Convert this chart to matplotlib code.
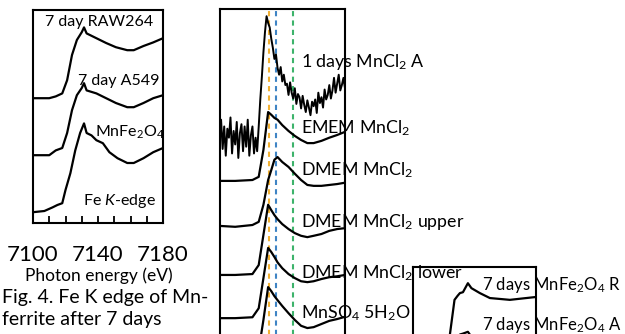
import matplotlib
matplotlib.use('Agg')
import matplotlib.pyplot as plt

W, H = 625, 334

plt.rcParams['font.family'] = ['Lato', 'DejaVu Sans']
plt.rcParams['mathtext.fontset'] = 'custom'
plt.rcParams['mathtext.rm'] = 'Lato'
plt.rcParams['mathtext.it'] = 'Lato:italic'

# Fe K-edge spectra (left panel), normalized absorbance
fe_energy = [7100, 7107, 7112, 7115, 7118, 7120, 7123, 7126, 7129, 7131.4, 7133,
             7136, 7139, 7143, 7147, 7152, 7158, 7162, 7168, 7174, 7180]
fe_mnfe2o4 = [0, 0.02, 0.08, 0.12, 0.15, 0.37, 0.65, 1.03, 1.32, 1.48, 1.32,
              1.28, 1.2, 1.15, 1.0, 0.9, 0.82, 0.82, 0.9, 1.0, 1.07]
fe_cells_energy = [7100, 7110, 7114, 7118, 7121, 7124, 7127, 7130, 7131.4, 7133,
                   7139, 7145, 7151, 7158, 7162, 7168, 7174, 7180]
fe_a549 = [0, 0, 0.08, 0.12, 0.37, 0.75, 1.0, 1.12, 1.2, 1.08, 1.03, 0.95,
           0.87, 0.8, 0.8, 0.87, 0.95, 1.0]
fe_raw264 = [0, 0, 0.03, 0.08, 0.3, 0.72, 0.97, 1.1, 1.18, 1.08, 1.0, 0.92,
             0.85, 0.8, 0.8, 0.87, 0.93, 1.0]
fe_offsets = [0.18, 1.13, 2.08]
fe_labels = ['Fe $K$-edge', 'MnFe$_2$O$_4$', '7 day A549', '7 day RAW264']

# Mn K-edge spectra (middle panel)
mn_energy = [6520, 6530, 6541, 6545, 6548, 6551, 6553, 6555, 6557, 6560, 6564,
             6568, 6572, 6576, 6580, 6585, 6590, 6595, 6600]
mn_emem = [0, 0, 0.02, 0.09, 0.69, 1.53, 1.47, 1.4, 1.36, 1.24, 1.11, 1.0,
           0.91, 0.84, 0.84, 0.89, 0.96, 1.02, 1.09]
mn_dmem = [0, -0.02, 0.02, 0.09, 0.47, 1.02, 1.24, 1.47, 1.53, 1.42, 1.31,
           1.16, 1.02, 0.91, 0.89, 0.89, 0.91, 0.93, 0.96]
mn_dmem_upper = [0, 0, 0.02, 0.22, 0.89, 1.56, 1.44, 1.33, 1.24, 1.13, 1.02,
                 0.93, 0.87, 0.84, 0.87, 0.91, 0.98, 1.02, 1.04]
mn_dmem_lower = [0, 0, 0.02, 0.22, 0.89, 1.56, 1.47, 1.36, 1.24, 1.11, 0.98,
                 0.89, 0.82, 0.8, 0.82, 0.87, 0.91, 0.93, 0.96]
mn_mnso4 = [0, 0, 0.02, 0.22, 0.89, 1.62, 1.53, 1.42, 1.33, 1.2, 1.04, 0.89,
            0.76, 0.71, 0.73, 0.8, 0.87, 0.91, 0.96]
# noisy 1 day sample, read at 1 eV steps
mn_a_energy = [6520, 6521, 6522, 6523, 6524, 6525, 6526, 6527, 6528, 6529,
               6530, 6531, 6532, 6533, 6534, 6535, 6536, 6537, 6538, 6539,
               6540, 6541, 6542, 6543, 6544, 6545, 6546, 6547, 6548, 6549,
               6550, 6551, 6552, 6553, 6554, 6555, 6556, 6557, 6558, 6559,
               6560, 6561, 6562, 6563, 6564, 6565, 6566, 6567, 6568, 6569,
               6570, 6571, 6572, 6573, 6574, 6575, 6576, 6577, 6578, 6579,
               6580, 6581, 6582, 6583, 6584, 6585, 6586, 6587, 6588, 6589,
               6590, 6591, 6592, 6593, 6594, 6595, 6596, 6597, 6598, 6599, 6600]
mn_a = [0.1, 0.45, -0.2, 0.3, -0.35, 0.25, 0.05, 0.5, -0.3, 0.2,
        -0.1, 0.4, -0.4, 0.15, 0.35, -0.25, 0.3, -0.15, 0.45, -0.35,
        0.1, 0.3, -0.3, 0.05, -0.25, 0.3, 0.9, 1.4, 1.95, 2.4,
        2.75, 2.6, 2.5, 2.25, 2.05, 1.8, 1.9, 1.6, 1.45, 1.62,
        1.3, 1.45, 1.22, 1.25, 1.0, 1.28, 1.05, 0.92, 1.15, 0.8,
        1.02, 0.95, 0.7, 0.98, 0.78, 0.62, 0.88, 0.72, 0.55, 0.85,
        0.75, 0.9, 0.6, 1.05, 0.82, 0.95, 0.72, 1.12, 0.9, 1.0,
        1.22, 0.92, 1.1, 1.38, 1.05, 1.25, 1.45, 1.1, 1.22, 1.38, 1.15]
mn_offsets = [5.09, 4.18, 3.18, 2.09, 1.13, 0.2]
mn_labels = ['1 days MnCl$_2$ A', 'EMEM MnCl$_2$', 'DMEM MnCl$_2$',
             'DMEM MnCl$_2$ upper', 'DMEM MnCl$_2$ lower', 'MnSO$_4$ 5H$_2$O']
mn_label_y = [62, 128, 170, 222, 273, 313]
ref_lines = [6551.4, 6556.2, 6567.0]
ref_colors = ['#F2B134', '#3F84C4', '#3DB36B']

# Right panel (7 days MnFe2O4)
rp_energy = [6520, 6535, 6542, 6544, 6547, 6549, 6550.5, 6552.5, 6555.7, 6558,
             6563.5, 6570, 6583, 6599]
rp_r = [0, 0, 0.1, 0.5, 1.27, 1.36, 1.42, 1.44, 1.64, 1.53, 1.42, 1.31, 1.27, 1.33]
rp_a = [0, 0, 0.1, 0.5, 1.2, 1.4, 1.5, 1.52, 1.56, 1.45, 1.35, 1.25, 1.2, 1.25]
rp_offsets = [0.0, -1.0]
rp_labels = ['7 days MnFe$_2$O$_4$ R', '7 days MnFe$_2$O$_4$ A']
rp_label_y = [285, 325]

fig = plt.figure(figsize=(W / 100, H / 100), dpi=100)


def px(x, y):
    return x / W, 1 - y / H


def frame(ax):
    for s in ax.spines.values():
        s.set_linewidth(1.5)
    ax.set_yticks([])


line_kw = dict(color='black', lw=1.6, solid_joinstyle='round')

# left panel
ax1 = fig.add_axes([33 / W, 1 - 223 / H, 130 / W, 213 / H])
frame(ax1)
ax1.plot(fe_energy, [v + fe_offsets[0] for v in fe_mnfe2o4], **line_kw)
ax1.plot(fe_cells_energy, [v + fe_offsets[1] for v in fe_a549], **line_kw)
ax1.plot(fe_cells_energy, [v + fe_offsets[2] for v in fe_raw264], **line_kw)
ax1.set_xlim(7100, 7180)
ax1.set_ylim(0, 3.55)
ax1.set_xticks([7100, 7140, 7180])
ax1.set_xticks(range(7110, 7180, 10), minor=True)
ax1.tick_params(axis='x', which='both', direction='in', length=5, width=1.3,
                labelsize=16, pad=16)
for xl, yl, t in zip([83, 95, 78, 45], [201, 132, 81, 22], fe_labels):
    fig.text(*px(xl, yl), t, fontsize=11.5, va='center', ha='left')
fig.text(*px(99, 276), 'Photon energy (eV)', fontsize=12.5, ha='center', va='center')
fig.text(*px(2, 297), 'Fig. 4. Fe K edge of Mn-', fontsize=14, ha='left', va='center')
fig.text(*px(2, 320), 'ferrite after 7 days', fontsize=14, ha='left', va='center')

# middle panel
ax2 = fig.add_axes([219.5 / W, 1 - 369 / H, 125.5 / W, 360 / H])
frame(ax2)
ax2.set_xticks([])
for xv, c in zip(ref_lines, ref_colors):
    ax2.axvline(xv, color=c, lw=1.5, ls=(0, (2.5, 2)), zorder=1)
ax2.plot(mn_a_energy, [v + mn_offsets[0] for v in mn_a], lw=1.4, color='black')
for ys, off in zip([mn_emem, mn_dmem, mn_dmem_upper, mn_dmem_lower, mn_mnso4],
                   mn_offsets[1:]):
    ax2.plot(mn_energy, [v + off for v in ys], **line_kw)
ax2.set_xlim(6520, 6600)
ax2.set_ylim(0, 8.0)
for t, yl in zip(mn_labels, mn_label_y):
    fig.text(*px(301, yl), t, fontsize=12.8, va='center', ha='left')

# right panel
ax3 = fig.add_axes([413 / W, 1 - 420 / H, 123 / W, 153 / H])
frame(ax3)
ax3.set_xticks([])
ax3.plot(rp_energy, [v + rp_offsets[0] for v in rp_r], **line_kw)
ax3.plot(rp_energy, [v + rp_offsets[1] for v in rp_a], **line_kw)
ax3.set_xlim(6520, 6600)
ax3.set_ylim(-1.4, 2.0)
for t, yl in zip(rp_labels, rp_label_y):
    fig.text(*px(482, yl), t, fontsize=12, va='center', ha='left')

fig.savefig('out.png', dpi=100)
